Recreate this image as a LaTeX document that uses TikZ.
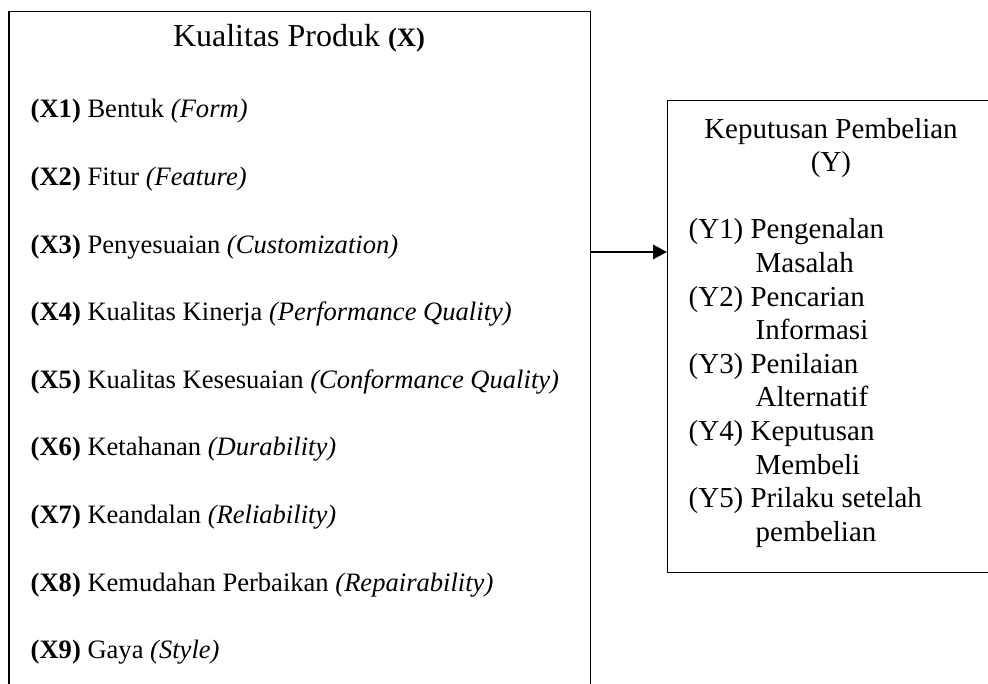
\documentclass[tikz,border=0pt]{standalone}
\usepackage{fontspec}
\setmainfont{Liberation Serif}
\usetikzlibrary{arrows.meta}

\begin{document}
\begin{tikzpicture}[> = {Triangle[length=3.5mm,width=3.6mm]}, line width=1pt]
        \tikzstyle{kotak}=[draw, rectangle, inner sep=0pt, anchor=north west]
        \tikzstyle{butir}=[anchor=base west, inner sep=0pt, font=\fontsize{18.9}{22}\selectfont]
        \tikzstyle{ybutir}=[anchor=base west, inner sep=0pt, font=\fontsize{20.6}{24}\selectfont]
        \useasboundingbox (0,0) rectangle (24.7,17.1);

            % Kotak
            \node[kotak, minimum width=14.54cm, minimum height=17.2cm] (kx) at (0.21,16.825) {};
            \node[kotak, minimum width=8.125cm, minimum height=11.8cm] (ky) at (16.675,14.6) {};

            % Kualitas Produk
            \node[anchor=base, inner sep=0pt, font=\fontsize{22.75}{26}\selectfont] (jx) at (7.475,15.925) {Kualitas Produk {\fontsize{18.9}{22}\selectfont\textbf{(X)}}};
            \node[butir] (x1) at (0.75,14.15) {\textbf{(X1)} Bentuk \textit{(Form)}};
            \node[butir] (x2) at (0.75,12.46) {\textbf{(X2)} Fitur \textit{(Feature)}};
            \node[butir] (x3) at (0.75,10.77) {\textbf{(X3)} Penyesuaian \textit{(Customization)}};
            \node[butir] (x4) at (0.75,9.08) {\textbf{(X4)} Kualitas Kinerja \textit{(Performance Quality)}};
            \node[butir] (x5) at (0.75,7.39) {\textbf{(X5)} Kualitas Kesesuaian \textit{(Conformance Quality)}};
            \node[butir] (x6) at (0.75,5.70) {\textbf{(X6)} Ketahanan \textit{(Durability)}};
            \node[butir] (x7) at (0.75,4.01) {\textbf{(X7)} Keandalan \textit{(Reliability)}};
            \node[butir] (x8) at (0.75,2.32) {\textbf{(X8)} Kemudahan Perbaikan \textit{(Repairability)}};
            \node[butir] (x9) at (0.75,0.63) {\textbf{(X9)} Gaya \textit{(Style)}};

            % Keputusan Pembelian
            \node[ybutir, anchor=base] (jy1) at (20.775,13.625) {Keputusan Pembelian};
            \node[ybutir, anchor=base] (jy2) at (20.775,12.8) {(Y)};
            \node[ybutir] (y1) at (17.2,11.125) {(Y1) Pengenalan};
            \node[ybutir] (y1b) at (18.875,10.285) {Masalah};
            \node[ybutir] (y2) at (17.2,9.445) {(Y2) Pencarian};
            \node[ybutir] (y2b) at (18.875,8.605) {Informasi};
            \node[ybutir] (y3) at (17.2,7.765) {(Y3) Penilaian};
            \node[ybutir] (y3b) at (18.875,6.925) {Alternatif};
            \node[ybutir] (y4) at (17.2,6.085) {(Y4) Keputusan};
            \node[ybutir] (y4b) at (18.875,5.245) {Membeli};
            \node[ybutir] (y5) at (17.2,4.405) {(Y5) Prilaku setelah};
            \node[ybutir] (y5b) at (18.875,3.565) {pembelian};

            % Panah
            \coordinate (pangkal) at (kx.east |- 0,10.8);
            \draw[->, line width=1.3pt] (pangkal) -- (pangkal -| ky.west);
\end{tikzpicture}
\end{document}
